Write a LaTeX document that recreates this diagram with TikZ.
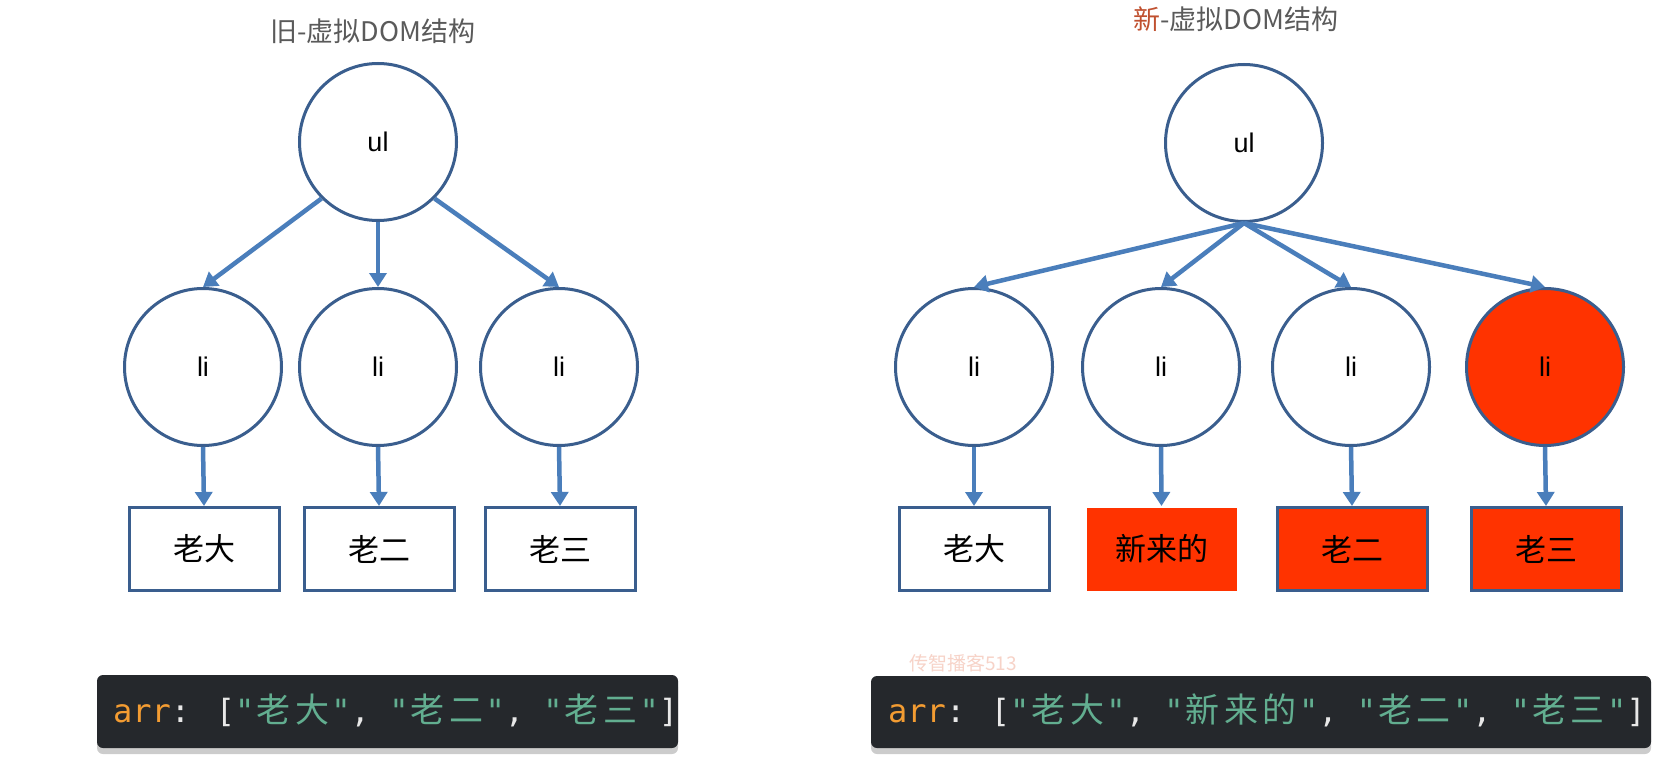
\documentclass[tikz,border=0pt]{standalone}
\usepackage{fontspec}
\setmainfont{Liberation Sans}
\newfontfamily\cjk{Noto Sans CJK SC}
\newfontfamily\codefont{DejaVu Sans Mono}
\usetikzlibrary{arrows.meta,shadows}
\definecolor{arrowblue}{HTML}{4A7EBB}
\definecolor{nodeblue}{HTML}{3A5E8E}
\definecolor{redfill}{HTML}{FF3300}
\definecolor{titlegray}{HTML}{5A5A5A}
\definecolor{titlered}{HTML}{C0502F}
\definecolor{codebg}{HTML}{25282C}
\definecolor{codeorange}{HTML}{F39C32}
\definecolor{codegreen}{HTML}{62AE90}
\definecolor{codewhite}{HTML}{E8E8E8}
\definecolor{wmpink}{HTML}{F7D3C8}
\newcommand\cj[1]{\makebox[38.5pt]{\cjk\fontsize{34}{38}\selectfont #1}}
\begin{document}
\begin{tikzpicture}[x=1pt,y=-1pt,
  circ/.style={circle, draw=nodeblue, line width=3pt, minimum size=157pt, inner sep=0pt, font=\fontsize{27}{30}\selectfont},
  leaf/.style={rectangle, draw=nodeblue, line width=3pt, minimum width=150pt, minimum height=83pt, inner sep=0pt, font=\cjk\fontsize{31}{36}\selectfont},
  redleaf/.style={leaf, fill=redfill},
  redcirc/.style={circ, fill=redfill},
  conn/.style={draw=arrowblue, line width=4.5pt, -{Triangle[length=14pt,width=17pt]}},
  title/.style={font=\cjk\fontsize{27}{32}\selectfont, text=titlegray, inner sep=0pt},
  codebox/.style={fill=codebg, rounded corners=6pt, inner sep=0pt, drop shadow={shadow xshift=0pt, shadow yshift=-6pt, fill=black, opacity=0.2}},
  codetext/.style={anchor=west, inner sep=0pt, font=\codefont\fontsize{32}{36}\selectfont, text=codewhite}
]
\useasboundingbox[fill=white] (0,0) rectangle (1670,760);

% titles
\node[title] (t1) at (373,31) {旧-虚拟DOM结构};
\node[title] (t2) at (1236,19) {{\color{titlered}新}-虚拟DOM结构};

% old tree
\node[circ] (oul) at (378,142) {ul};
\node[circ] (oli1) at (203,367) {li};
\node[circ] (oli2) at (378,367) {li};
\node[circ] (oli3) at (559,367) {li};
\node[leaf] (ob1) at (204,549) {老大};
\node[leaf] (ob2) at (379,549) {老二};
\node[leaf] (ob3) at (560,549) {老三};
\draw[conn] (oul.225) -- (oli1.north);
\draw[conn] (oul.south) -- (oli2.north);
\draw[conn] (oul.-45) -- (oli3.north);
\draw[conn] (oli1.south) -- (ob1.north);
\draw[conn] (oli2.south) -- (ob2.north);
\draw[conn] (oli3.south) -- (ob3.north);

% new tree
\node[circ] (nul) at (1244,143) {ul};
\node[circ] (nli1) at (974,367) {li};
\node[circ] (nli2) at (1161,367) {li};
\node[circ] (nli3) at (1351,367) {li};
\node[redcirc] (nli4) at (1545,367) {li};
\node[leaf] (nb1) at (974,549) {老大};
\node[redleaf, draw=none] (nb2) at (1161.5,549) {新来的};
\node[redleaf] (nb3) at (1352,549) {老二};
\node[redleaf] (nb4) at (1546,549) {老三};
\draw[conn] (nul.south) -- (nli1.north);
\draw[conn] (nul.south) -- (nli2.north);
\draw[conn] (nul.south) -- (nli3.north);
\draw[conn] (nul.south) -- (nli4.north);
\draw[conn] (nli1.south) -- (nb1.north);
\draw[conn] (nli2.south) -- (nb2.north);
\draw[conn] (nli3.south) -- (nb3.north);
\draw[conn] (nli4.south) -- (nb4.north);

% watermark
\node[anchor=west, inner sep=0pt, text=wmpink, font=\cjk\fontsize{19}{21}\selectfont] (wm) at (909,663) {传智播客513};

% code boxes
\node[codebox, minimum width=581pt, minimum height=73pt] (codeL) at (387.5,711.5) {};
\node[codetext] (arrL) at (113,710) {{\color{codeorange}arr}: [{\color{codegreen}"\cj{老}\cj{大}"}, {\color{codegreen}"\cj{老}\cj{二}"}, {\color{codegreen}"\cj{老}\cj{三}"}]};

\node[codebox, minimum width=780pt, minimum height=72pt] (codeR) at (1261,712) {};
\node[codetext] (arrR) at (888,710) {{\color{codeorange}arr}: [{\color{codegreen}"\cj{老}\cj{大}"}, {\color{codegreen}"\cj{新}\cj{来}\cj{的}"}, {\color{codegreen}"\cj{老}\cj{二}"}, {\color{codegreen}"\cj{老}\cj{三}"}]};
\end{tikzpicture}
\end{document}
